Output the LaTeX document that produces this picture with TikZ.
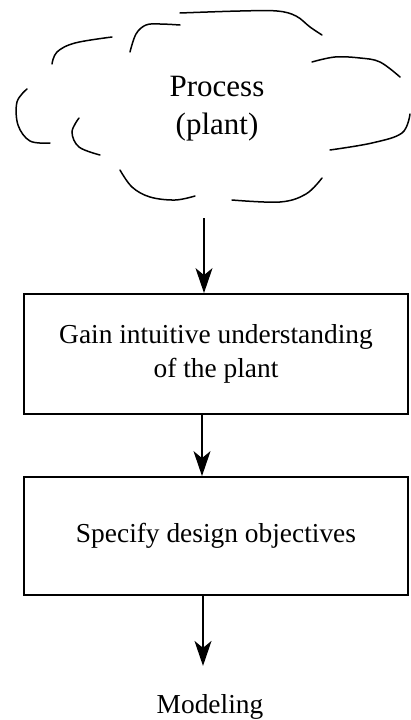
\documentclass[tikz,border=0pt]{standalone}
\usepackage{fontspec}
\setmainfont{Liberation Serif}
\usetikzlibrary{arrows.meta,positioning}

\begin{document}
\begin{tikzpicture}[x=1pt, y=-1pt,
  cloudline/.style={line width=1.5pt, line cap=round, smooth, tension=0.6},
  stepbox/.style={draw, line width=1.8pt, minimum width=384pt, align=center,
    font=\fontsize{27.4}{34}\selectfont},
  lbl/.style={align=center, font=\fontsize{27.4}{34}\selectfont},
  arr/.style={-{Stealth[length=25pt, width=17pt, inset=7pt]}, line width=1.6pt}]

\useasboundingbox (0,0) rectangle (410,720);

%% cloud
\draw[cloudline] plot coordinates {(180,13) (240,11) (277,11) (296,16) (310,27) (322,35)};
\draw[cloudline] plot coordinates {(130,52) (136,34) (146,25) (160,24) (180,25)};
\draw[cloudline] plot coordinates {(52,64) (57,52) (75,43) (112,37)};
\draw[cloudline] plot coordinates {(312,62) (335,57) (360,58) (380,62) (400,77)};
\draw[cloudline] plot coordinates {(27,89) (17,102) (18,125) (30,141) (50,143)};
\draw[cloudline] plot coordinates {(79,118) (72,132) (79,147) (100,155)};
\draw[cloudline] plot coordinates {(410,114) (402,133) (372,143) (330,150)};
\draw[cloudline] plot coordinates {(120,170) (132,187) (150,197) (175,200) (195,196)};
\draw[cloudline] plot coordinates {(232,200) (280,202) (306,194) (322,178)};

\node[lbl, font=\fontsize{31}{38}\selectfont] (plant) at (217,109) {Process\\(plant)};
\coordinate (tail) at (204,218);

\node[stepbox, minimum height=120pt] (gain) at (216,354)
  {Gain intuitive understanding\\of the plant};
\node[stepbox, minimum height=118pt] (spec) at (216,536)
  {Specify design objectives};
\node[lbl] (model) at (210,707) {Modeling};

\draw[arr] (tail) -- (tail |- gain.north);
\draw[arr] ([xshift=-14pt]gain.south) -- ([xshift=-14pt]spec.north);
\draw[arr] ([xshift=-13pt]spec.south) -- ++(0,70);

\end{tikzpicture}
\end{document}
